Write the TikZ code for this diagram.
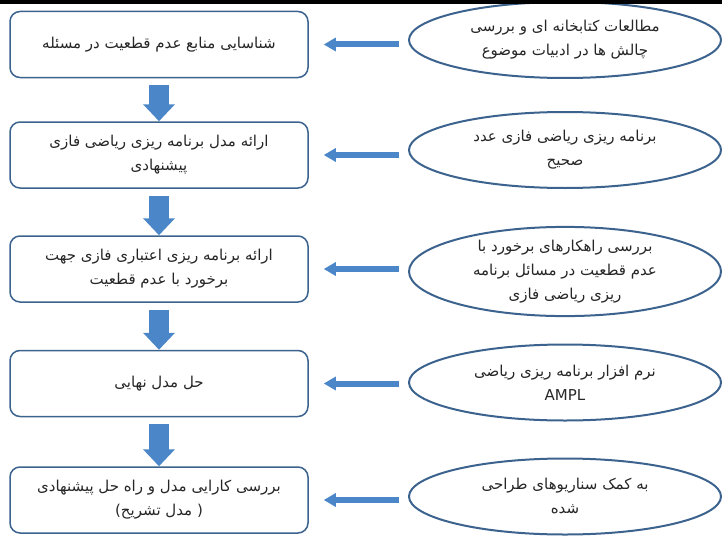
\documentclass[tikz,border=0pt]{standalone}
\usepackage{fontspec}
\newfontfamily\farsi[Script=Arabic]{DejaVu Sans}
\newfontfamily\latinfont{DejaVu Sans}
\TeXXeTstate=1
\usetikzlibrary{arrows.meta,shapes.geometric}
\definecolor{arrowblue}{RGB}{74,134,200}
\definecolor{edgeblue}{RGB}{60,98,142}
\newcommand{\faline}[1]{\beginR #1\endR}

\begin{document}
\begin{tikzpicture}[x=1pt, y=-1pt,
    every node/.style={font=\farsi\fontsize{15}{24}\selectfont, text=black!85},
    stepbox/.style={draw=edgeblue, line width=1.5pt, rounded corners=10pt,
        minimum width=298pt, minimum height=66pt, inner sep=0pt, align=center},
    sourcebox/.style={ellipse, draw=edgeblue, line width=2pt,
        minimum width=312pt, minimum height=76pt, inner sep=0pt, align=center},
    downarrow/.style={draw=arrowblue, line width=20pt,
        -{Triangle[width=31pt,length=17pt]}, shorten <=7pt},
    sidearrow/.style={draw=arrowblue, line width=6pt,
        -{Triangle[width=13pt,length=12pt]}, shorten <=9pt, shorten >=15pt}]
    \useasboundingbox (0,0) rectangle (722,535);

    % Fasi del metodo
    \node[stepbox] (b1) at (159,44.5) {\faline{شناسایی منابع عدم قطعیت در مسئله}};
    \node[stepbox] (b2) at (159,155) {\faline{ارائه مدل برنامه ریزی ریاضی فازی}\\ \faline{پیشنهادی}};
    \node[stepbox] (b3) at (159,269) {\faline{ارائه برنامه ریزی اعتباری فازی جهت}\\ \faline{برخورد با عدم قطعیت}};
    \node[stepbox] (b4) at (159,383.5) {\faline{حل مدل نهایی}};
    \node[stepbox] (b5) at (159,500) {\faline{بررسی کارایی مدل و راه حل پیشنهادی}\\
        {\latinfont(}\faline{تشریح}\ \faline{مدل}\ {\latinfont)}};

    % Strumenti
    \node[sourcebox] (e1) at (565,40) {\faline{مطالعات کتابخانه ای و بررسی}\\ \faline{چالش ها در ادبیات موضوع}};
    \node[sourcebox] (e2) at (565,150) {\faline{برنامه ریزی ریاضی فازی عدد}\\ \faline{صحیح}};
    \node[sourcebox] (e3) at (565,271.5) {\faline{بررسی راهکارهای برخورد با}\\ \faline{عدم قطعیت در مسائل برنامه}\\ \faline{ریزی ریاضی فازی}};
    \node[sourcebox] (e4) at (565,382.5) {\faline{نرم افزار برنامه ریزی ریاضی}\\ AMPL};
    \node[sourcebox] (e5) at (565,496.5) {\faline{به کمک سناریوهای طراحی}\\ \faline{شده}};

    % Frecce
    \foreach \i/\j in {1/2,2/3,3/4,4/5}{
        \draw[downarrow] (b\i.south) -- (b\j.north);
    }
    \foreach \i in {1,...,5}{
        \draw[sidearrow] (e\i.west |- b\i.east) -- (b\i.east);
    }

    % Barra nera in alto
    \fill[black] (0,0) rectangle (722,4.5);
\end{tikzpicture}
\end{document}
